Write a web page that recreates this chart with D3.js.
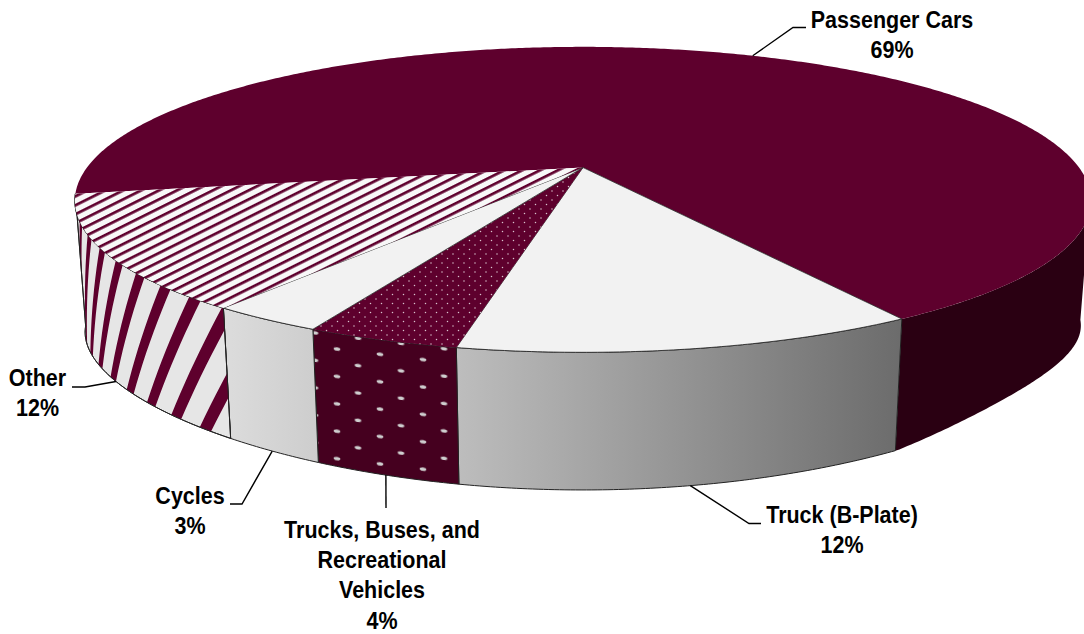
<!DOCTYPE html>
<html>
<head>
<meta charset="utf-8">
<script src="https://cdn.jsdelivr.net/npm/d3@7"></script>
<style>
  html, body { margin: 0; padding: 0; background: #fff; }
  svg { display: block; }
  text { font-family: "Liberation Sans", Arial, sans-serif; font-weight: 700; fill: #000; }
</style>
</head>
<body>
<svg id="chart" width="1084" height="634"></svg>
<script>
// Vehicle share by type
const categories = ["Passenger Cars", "Truck (B-Plate)", "Trucks, Buses, and Recreational Vehicles", "Cycles", "Other"];
const shares = [69, 12, 4, 3, 12];

// Label line breaks, one entry per category
const labelLines = [["Passenger Cars"], ["Truck (B-Plate)"], ["Trucks, Buses, and", "Recreational", "Vehicles"], ["Cycles"], ["Other"]];

// Label layout: text centre, first baseline, and the leader's elbow run
const labelLayout = [
  { x: 892, y: 28, leader: [[793, 27.5], [806, 27.5]], rim: "top" },
  { x: 842, y: 523, leader: [[749, 523.5], [761, 523.5]], rim: "bottom" },
  { x: 382, y: 537.5, leader: [[386, 508]], rim: "bottom" },
  { x: 190, y: 504, leader: [[242, 504], [230, 504]], rim: "bottom" },
  { x: 37.5, y: 386, leader: [[85, 387], [72, 387]], rim: "bottom" }
];

const MAROON = "#5e002d", MAROON_WALL = "#45001f", MAROON_DARK = "#2a0012";
const PALE = "#f2f2f2", WALL_PALE = "#e6e6e6", EDGE = "#222";
const rad = Math.PI / 180;

// The disc is a circle seen in perspective: the hub sits above the centre of its ellipse.
const hub = { x: 583, y: 167.5 };
const rimTop = (a) => {
  const X = Math.sin(a), Y = -Math.cos(a);
  return [hub.x + 496 * X / (1 - 0.217 * Y), hub.y + 146 * Y / (1 - 0.21 * Y)];
};
const rimBottom = (a) => {
  const X = Math.sin(a), Y = -Math.cos(a);
  // the lower rim lifts a little on its way round to the right
  const lift = X > 0.53 ? 12 * Math.sin(Math.PI * Math.min(1, (X - 0.53) / 0.55)) : 0;
  return [hub.x + 486 * X / (1 - 0.217 * Y), 303.8 + 121 * Y / (1 - 0.35 * Y) - lift];
};
const rimAt = (a, t) => {
  const p = rimTop(a), q = rimBottom(a);
  return [p[0] + (q[0] - p[0]) * t, p[1] + (q[1] - p[1]) * t];
};

const slices = d3.pie().sort(null).value(d => d)
  .startAngle(-100 * rad).endAngle(260 * rad)(shares);

const line = d3.line();
const sweep = (a0, a1, fn) => {
  const n = Math.max(2, Math.ceil(Math.abs(a1 - a0) / (0.5 * rad)));
  return d3.range(n + 1).map(i => fn(a0 + (a1 - a0) * i / n));
};
const topPath = (s) => line([[hub.x, hub.y], ...sweep(s.startAngle, s.endAngle, rimTop)]) + "Z";
const wallPoints = (a0, a1) => [...sweep(a0, a1, rimTop), ...sweep(a1, a0, rimBottom)];
const wallPath = (a0, a1) => line(wallPoints(a0, a1)) + "Z";

const svg = d3.select("#chart");
const defs = svg.append("defs");

// Gradients for the two pale side walls
const gradient = (id, x1, x2, c1, c2) => {
  const g = defs.append("linearGradient").attr("id", id).attr("gradientUnits", "userSpaceOnUse")
    .attr("x1", x1).attr("x2", x2).attr("y1", 0).attr("y2", 0);
  g.append("stop").attr("offset", 0).attr("stop-color", c1);
  g.append("stop").attr("offset", 1).attr("stop-color", c2);
};
gradient("truckWall", 458, 900, "#bdbdbd", "#6c6c6c");
gradient("cycleWall", 225, 318, "#dcdcdc", "#cdcdcd");

// Diagonal hatch on the top of "Other"
const hatch = defs.append("pattern").attr("id", "hatchTop").attr("patternUnits", "userSpaceOnUse")
  .attr("width", 8).attr("height", 8).attr("patternTransform", "rotate(-26.5)");
hatch.append("rect").attr("width", 8).attr("height", 8).attr("fill", "#f8f8f8");
hatch.append("rect").attr("width", 8).attr("height", 2.7).attr("fill", MAROON);

// Fine dots on the top of the trucks slice
const fineDots = defs.append("pattern").attr("id", "dotsTop").attr("patternUnits", "userSpaceOnUse")
  .attr("width", 11).attr("height", 9);
fineDots.append("rect").attr("width", 11).attr("height", 9).attr("fill", MAROON);
[[2, 2], [7.5, 6.5]].forEach(([x, y]) =>
  fineDots.append("circle").attr("cx", x).attr("cy", y).attr("r", 0.75).attr("fill", "#d9c2cd"));

// Larger staggered dots on the wall of the trucks slice
const wallDots = defs.append("pattern").attr("id", "dotsWall").attr("patternUnits", "userSpaceOnUse")
  .attr("width", 43).attr("height", 27.4)
  .attr("patternTransform", "translate(337 349) skewY(7)");
wallDots.append("rect").attr("width", 43).attr("height", 27.4).attr("fill", MAROON_WALL);
[[0, 0], [21, 14], [43, 0], [0, 27.4], [43, 27.4]].forEach(([x, y]) =>
  wallDots.append("ellipse").attr("cx", x).attr("cy", y).attr("rx", 3.3).attr("ry", 1.7).attr("fill", "#cfcfcf"));

const topFills = [MAROON, PALE, "url(#dotsTop)", PALE, "url(#hatchTop)"];
const wallFills = [MAROON_DARK, "url(#truckWall)", "url(#dotsWall)", "url(#cycleWall)", WALL_PALE];

// Side walls, starting where the right side of the disc turns out of view
const wallStart = (s, i) => i === 0 ? 100 * rad : s.startAngle;
const wallEnd = (s) => s.endAngle;
const frontEnd = (s, i) => i === 0 ? slices[1].startAngle : wallEnd(s);

const walls = svg.append("g");
walls.selectAll("path").data(slices).join("path")
  .attr("d", (s, i) => wallPath(wallStart(s, i), frontEnd(s, i)))
  .attr("fill", (s, i) => wallFills[i])
  .attr("stroke", (s, i) => i === 0 ? "none" : EDGE)
  .attr("stroke-width", 1);

// Slanted bands on the wall of "Other"; each one drifts round the rim as it descends
const otherWall = slices[4];
const bandClip = defs.append("clipPath").attr("id", "otherClip");
bandClip.append("path").attr("d", wallPath(otherWall.startAngle, otherWall.endAngle));
const bandStarts = d3.range(0, 13).map(i => (205.9 + i * 4.7) * rad);
const bandPath = (a0) => {
  const drift = 9 * rad, width = 1.7 * rad;
  const limit = (a) => Math.min(a, otherWall.endAngle);
  const ts = d3.range(0, 1.01, 0.1);
  return line([
    ...ts.map(t => rimAt(limit(a0 + drift * t), t)),
    ...ts.slice().reverse().map(t => rimAt(limit(a0 + width + drift * t), t))
  ]) + "Z";
};
walls.append("g").attr("clip-path", "url(#otherClip)")
  .selectAll("path").data(bandStarts).join("path")
  .attr("d", bandPath).attr("fill", MAROON);
walls.append("path").attr("d", wallPath(otherWall.startAngle, otherWall.endAngle))
  .attr("fill", "none").attr("stroke", EDGE).attr("stroke-width", 1);

// Top face of the disc
svg.append("g").selectAll("path").data(slices).join("path")
  .attr("d", topPath)
  .attr("fill", (s, i) => topFills[i])
  .attr("stroke", (s, i) => (i === 1 || i === 3) ? EDGE : "none")
  .attr("stroke-width", 0.8);

// Leader lines from each slice to its label, then the labels themselves
const midAngle = (s) => (s.startAngle + s.endAngle) / 2;
const labels = svg.append("g");
slices.forEach((s, i) => {
  const layout = labelLayout[i];
  const anchor = (layout.rim === "top" ? rimTop : rimBottom)(midAngle(s));
  labels.append("path")
    .attr("d", line([anchor, ...layout.leader]))
    .attr("fill", "none").attr("stroke", "#000").attr("stroke-width", 1.4);
  const rows = [...labelLines[i], `${shares[i]}%`];
  rows.forEach((row, r) => {
    labels.append("text")
      .attr("transform", `translate(${layout.x} ${layout.y + r * 30.4}) scale(0.907 1)`)
      .attr("text-anchor", "middle").attr("font-size", 23.7)
      .text(row);
  });
});
</script>
</body>
</html>
